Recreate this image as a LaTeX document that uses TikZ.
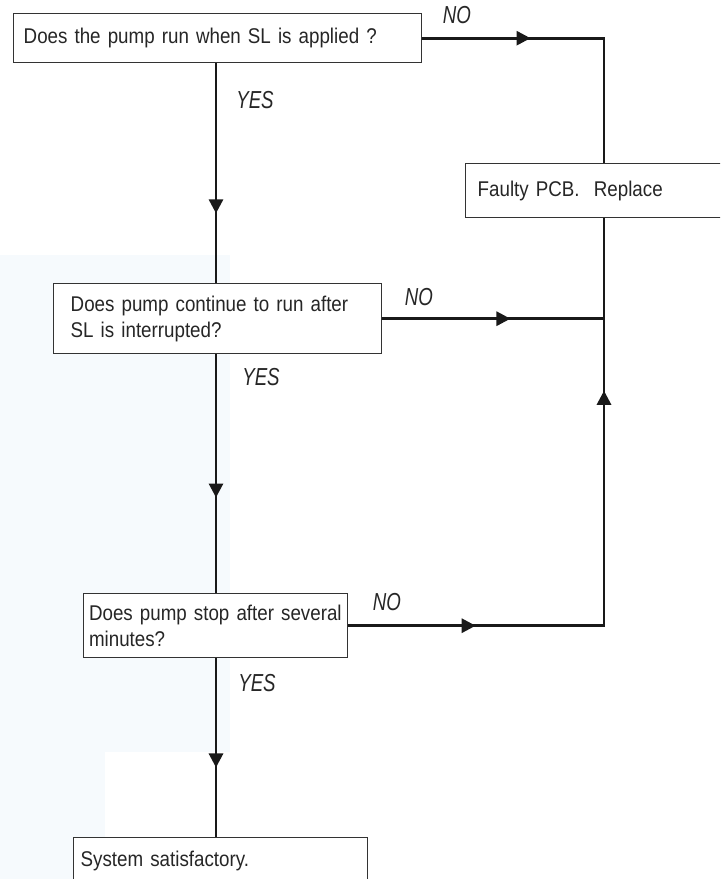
\documentclass[tikz,border=0pt]{standalone}
\usepackage{fontspec}
\setmainfont{Liberation Sans}
\newfontfamily\boxfont[FakeStretch=0.88, WordSpace=0.85]{Liberation Sans}
\newfontfamily\ansfont[FakeStretch=0.76]{Liberation Sans}
\usetikzlibrary{positioning,arrows.meta,decorations.markings}
\definecolor{wmblue}{RGB}{246,250,253}

\begin{document}
\begin{tikzpicture}[
    x=0.3mm, y=-0.3mm,
    box/.style={draw=black!80, line width=1.2pt, fill=white, anchor=north west, align=left,
        inner ysep=0pt, text=black!85, font=\boxfont\fontsize{18.2}{22}\selectfont},
    flow/.style={line width=2.4pt, black!90},
    tip/.style={postaction={decorate, decoration={markings,
        mark=at position #1 with {\arrow{Triangle[length=12pt, width=12pt]}}}}},
    ans/.style={inner sep=0pt, text=black!85, font=\ansfont\itshape\fontsize{21}{22}\selectfont},
]
\clip (0,0) rectangle (720,879);
% faint watermark
\fill[wmblue] (0,255) rectangle (105,879);
\fill[wmblue] (105,255) rectangle (230,752);

% boxes
\node[box, inner xsep=3mm, text width=116.4mm, minimum height=14.7mm] (run) at (13,13)
    {Does the pump run when SL is applied ?};
\node[box, inner xsep=5.1mm, text width=88.2mm, minimum height=21mm] (cont) at (53,283)
    {Does pump continue to run after\\SL is interrupted?};
\node[box, inner xsep=1.6mm, text width=76mm, minimum height=19.2mm] (stop) at (83,593)
    {Does pump stop after several\\minutes?};
\node[box, inner xsep=2.1mm, text width=84mm, minimum height=13.8mm] (ok) at (73,837)
    {System satisfactory.};
\node[box, inner xsep=3.6mm, text width=76.8mm, minimum height=16.2mm] (pcb) at (465,163)
    {Faulty PCB.~ Replace};

\coordinate (spine) at (216,0);
\coordinate (rail) at (604,0);

% yes branch
\draw[flow, tip=0.683] (run.south -| spine) -- (cont.north -| spine);
\draw[flow, tip=0.60] (cont.south -| spine) -- (stop.north -| spine);
\draw[flow, tip=0.611] (stop.south -| spine) -- (ok.north -| spine);

% no branch
\draw[flow, tip=0.353] (run.east) -- (run.east -| rail) -- (pcb.north -| rail);
\draw[flow, tip=0.578] (cont.east) -- (cont.east -| rail);
\draw[flow, tip=0.192, tip=0.74] (stop.east) -- (stop.east -| rail) -- (pcb.south -| rail);

\node[ans] (yes1) at (255,100) {YES};
\node[ans] (yes2) at (261,377) {YES};
\node[ans] (yes3) at (257,683) {YES};
\node[ans] (no1) at (457,15) {NO};
\node[ans] (no2) at (419,297) {NO};
\node[ans] (no3) at (387,602) {NO};
\end{tikzpicture}
\end{document}
